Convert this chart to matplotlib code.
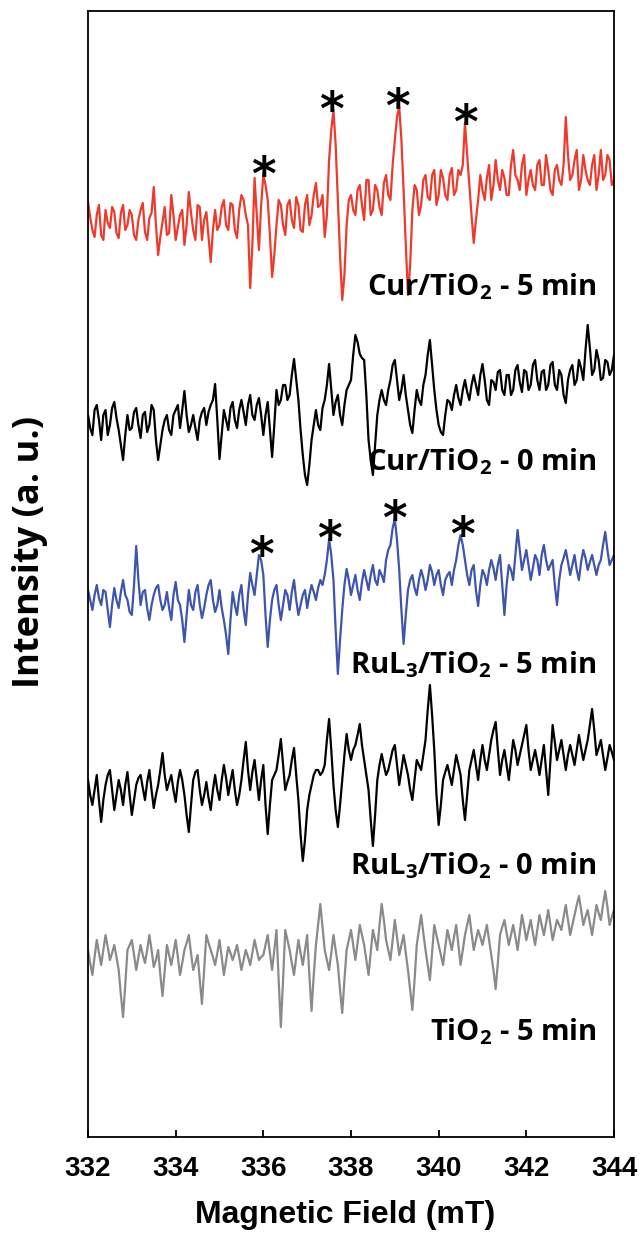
import numpy as np
import matplotlib
matplotlib.use("Agg")
import matplotlib.pyplot as plt

# EPR spectra, 332-344 mT (a.u.)
# *_a : points at 332.0, 332.1, ... 344.0 ; *_b : points at 332.05, 332.15, ... 343.95
field = np.round(np.arange(332.0, 344.001, 0.05), 3)

cur_5min_a = [23, -5, 10, -10, 15, -3, 13, -13, 20, 0, 10, -15, 15, -7, 7, 38, -30, 3, -10, 30,
              -15, 10, -20, 33, -5, 20, -15, 13, -37, 15, 0, 25, -5, 20, -13, 30, 10, -63, 47, -25,
              50, 25, -52, 0, 20, -10, 25, -3, 20, -7, 30, 10, 42, 20, -12, 65, 115, 25, -75, 0,
              30, 10, 40, 5, 45, 15, 35, 10, 50, 25, 85, 118, 35, -70, 15, 35, 20, 50, 25, 55,
              30, 47, 25, 57, 35, 50, 102, 40, -18, 25, 35, 47, 25, 65, 35, 47, 30, 75, 45, 60,
              30, 55, 35, 65, 40, 55, 30, 60, 40, 108, 45, 65, 35, 70, 45, 60, 35, 75, 50, 65, 45]
cur_5min_b = [8, -12, 20, -15, 2, 18, -8, 12, -5, 15, -10, 5, 22, -15, 12, 0, -12, 18, -8, 10,
              -2, 15, 0, 12, -15, 18, 5, -12, -5, -5, 18, 0, 22, -5, 15, 25, 0, -20, 10, 20,
              40, -10, -30, 25, 0, 20, 5, 28, -5, 20, 0, 30, 18, 30, 10, 95, 80, -30, -50, 25,
              15, 35, 20, 45, 10, 40, 18, 42, 30, 60, 108, 85, -20, -40, 40, 10, 45, 28, 50, 20,
              55, 30, 50, 30, 55, 60, 70, 10, 5, 50, 25, 60, 40, 45, 55, 30, 60, 50, 35, 70,
              45, 40, 60, 40, 70, 35, 55, 45, 60, 70, 50, 75, 45, 55, 40, 70, 50, 45, 70, 40]

cur_0min_a = [5, -15, 15, -20, 10, -5, 18, -10, -40, 5, -8, 12, -18, 8, -5, 10, -40, -10, 5, -15,
              10, -8, 29, -12, 5, -20, 8, -5, 15, 36, -39, 10, -10, 18, -8, 20, -5, 25, 0, 22,
              -15, 18, -37, 30, 20, 35, 25, 61, 20, -35, -65, -20, 10, -10, 20, 56, 5, 25, -5, 30,
              40, 85, 66, 60, -20, -55, 5, 30, 15, 40, 60, 20, 45, 10, -13, 30, 15, 45, 80, 30,
              -5, -15, 20, 10, 35, 15, 40, 20, 45, 25, 56, 20, 40, 30, 50, 25, 45, 30, 55, 28,
              48, 35, 60, 30, 50, 35, 58, 30, 45, 17, 50, 35, 60, 40, 95, 45, 70, 40, 60, 45, 65]
cur_0min_b = [-8, 10, 0, 5, -15, 12, 2, -25, -15, -10, 8, -5, 5, -12, 15, -20, -25, 0, -10, 5,
              15, 10, 5, -5, -8, 0, 12, 8, 20, 0, -15, 0, 12, 0, 10, 8, 15, 5, 15, 5,
              5, -10, -5, 15, 35, 20, 45, 40, -10, -55, -45, -5, -5, 12, 35, 30, 18, 5, 15, 35,
              65, 78, 62, 25, -40, -25, 20, 20, 30, 55, 40, 30, 25, -5, 10, 20, 35, 65, 55, 10,
              -12, 5, 18, 25, 22, 30, 28, 35, 35, 45, 40, 15, 38, 48, 30, 45, 25, 50, 38, 50,
              30, 55, 40, 48, 30, 55, 35, 50, 25, 40, 55, 40, 52, 70, 72, 50, 60, 42, 58, 50]

rul3_5min_a = [10, -10, 15, -5, 8, -27, 12, -8, 20, 0, -15, 54, -5, 10, -20, 5, 15, -10, 8, -20,
               18, -5, -42, 10, -10, 15, -18, 5, 20, -12, 10, -20, -54, 8, -15, 15, -25, 27, 5, 45,
               25, -47, 0, 15, -20, 10, -10, 20, -15, 5, -8, 15, 0, 20, 25, 61, 20, -74, -10, 31,
               5, 25, 0, 30, 10, 35, 15, 25, 40, 55, 81, 30, -44, 10, 25, 5, 30, 10, 35, 15,
               30, 5, 25, 15, 40, 65, 40, 15, 35, -6, 30, 15, 40, 20, 45, -15, 35, 20, 70, 30,
               50, 20, 45, 25, 55, 30, 40, -5, 35, 50, 25, 45, 20, 50, 30, 45, 25, 40, 68, 35, 45]
rul3_5min_b = [0, 5, 2, 10, -10, -5, 0, 8, 5, -12, 15, 20, 8, -8, -5, 12, 0, -5, -8, 5,
               0, -20, -15, -5, 8, -5, -8, 15, 0, -5, -8, -35, -20, -5, 5, -10, 5, 15, 25, 40,
               -15, -20, 10, -5, -5, 5, 8, 0, -5, 10, 5, 8, 12, 15, 40, 45, -30, -40, 15, 20,
               15, 10, 18, 20, 25, 20, 30, 18, 50, 72, 60, -10, -15, 20, 12, 20, 22, 20, 28, 25,
               15, 20, 28, 30, 55, 55, 25, 30, 10, 15, 25, 30, 32, 35, 15, 15, 30, 45, 50, 40,
               35, 32, 40, 45, 40, 35, 15, 20, 42, 38, 35, 30, 38, 42, 38, 35, 35, 55, 50, 40]

rul3_0min_a = [10, -15, 15, -32, 5, 20, -20, 10, -15, 18, -25, 5, 15, -10, 20, -18, 5, 37, 0, 15,
               -12, 20, -5, -42, 10, 20, -15, 8, -20, 15, -10, 25, -5, 20, -15, 10, 48, 0, 30, -10,
               25, -44, 10, 20, 51, 0, 15, 42, -10, -71, -20, 5, 20, 15, 25, 71, 5, -37, 10, 56,
               30, 45, 66, 30, 0, -56, 10, 36, 15, 30, 45, 5, 35, 15, -10, 30, 20, 50, 105, 40,
               -35, 10, 25, 5, 35, 15, -30, 20, 40, 10, 45, 20, 50, 68, 15, 40, 10, 50, 25, 45,
               65, 20, 40, 15, 45, -5, 65, 30, 50, 20, 45, 25, 55, 30, 50, 81, 35, 50, 20, 45, 30]
rul3_0min_b = [-5, 0, -10, -10, 15, 0, -5, 0, 5, -5, -10, 12, 2, 8, 0, -5, 20, 15, 8, 0,
               8, 10, -25, -15, 18, 0, -5, -8, 0, 0, 10, 12, 8, 0, -5, 30, 20, 18, 10, 10,
               -15, -15, 15, 35, 25, 8, 30, 15, -45, -50, -5, 15, 20, 18, 50, 40, -20, -15, 35, 40,
               40, 55, 45, 15, -30, -25, 25, 25, 20, 40, 25, 20, 25, 0, 10, 25, 35, 80, 75, -5,
               -15, 18, 15, 20, 25, -10, -5, 30, 25, 30, 30, 35, 60, 40, 30, 25, 30, 40, 35, 55,
               40, 30, 28, 30, 20, 30, 48, 40, 35, 35, 35, 40, 42, 40, 65, 60, 42, 35, 32, 38]

tio2_5min_a = [5, -20, 15, -10, 20, -5, 10, -15, -62, 5, 15, -15, 10, -8, 20, -12, 5, -41, 10, -10,
               15, -20, 5, 20, -15, 0, -49, 20, 5, -10, 15, -20, 8, -5, 10, -15, 5, -10, 15, -5,
               0, 20, -15, 25, -72, 25, 5, -20, 15, -10, 20, -56, 10, 51, 5, -15, 20, -10, -58, 5,
               25, -5, 30, 10, -20, 25, 5, 51, 15, -5, 35, 0, 20, -15, -55, 10, 40, 5, -25, 30,
               10, -10, 25, 5, 30, -10, 20, 40, 5, 25, 10, 30, 0, -34, 20, 35, 10, 30, 5, 40,
               15, 35, 10, 40, 20, 45, 15, 35, 25, 50, 20, 40, 59, 30, 45, 20, 50, 35, 64, 30, 45]
tio2_5min_b = [-8, -2, 2, 5, 8, 2, -2, -40, -30, 10, 0, -2, 0, 5, 5, -5, -20, -15, 0, 2,
               -2, -8, 12, 2, -8, -25, -15, 12, -2, 2, -2, -6, 2, 2, -2, -5, -2, 2, 5, -2,
               10, 2, 5, -25, -25, 15, -8, -2, 2, 5, -20, -20, 30, 28, -5, 2, 5, -35, -25, 15,
               10, 12, 20, -5, 2, 15, 30, 35, 5, 15, 18, 10, 2, -35, -25, 25, 22, -10, 2, 20,
               0, 8, 15, 18, 10, 5, 30, 22, 15, 18, 20, 15, -15, -8, 28, 22, 20, 18, 22, 28,
               25, 22, 25, 30, 32, 30, 25, 30, 38, 35, 30, 50, 45, 38, 32, 35, 42, 50, 48, 38]

spectra = [(cur_5min_a, cur_5min_b), (cur_0min_a, cur_0min_b), (rul3_5min_a, rul3_5min_b),
           (rul3_0min_a, rul3_0min_b), (tio2_5min_a, tio2_5min_b)]
labels = [r"Cur/TiO$_\mathbf{2}$ - 5 min", r"Cur/TiO$_\mathbf{2}$ - 0 min",
          r"RuL$_\mathbf{3}$/TiO$_\mathbf{2}$ - 5 min", r"RuL$_\mathbf{3}$/TiO$_\mathbf{2}$ - 0 min",
          r"TiO$_\mathbf{2}$ - 5 min"]
colors = ["#ee3a2c", "black", "#3d55ad", "black", "#8a8a8a"]
offsets = [912, 717, 537, 347, 182]          # vertical stacking of the traces
label_y = [842, 667, 464, 263, 97]           # baseline height of each label
star_fields = {0: [336.0, 337.55, 339.05, 340.6], 2: [335.95, 337.5, 339.0, 340.55]}

label_font = "Open Sans"
plt.rcParams["mathtext.fontset"] = "custom"
plt.rcParams["mathtext.bf"] = label_font + ":bold"
plt.rcParams["mathtext.rm"] = label_font + ":bold"

fig = plt.figure(figsize=(6.41, 12.36), dpi=100)
ax = fig.add_axes([88 / 641, 1 - 1137 / 1236, 526 / 641, 1126 / 1236])

for i, (a, b) in enumerate(spectra):
    y = np.empty(len(field))
    y[0::2] = a
    y[1::2] = b
    y = y + offsets[i]
    ax.plot(field, y, color=colors[i], lw=1.6)
    ax.text(343.6, label_y[i], labels[i], ha="right", va="baseline",
            fontsize=21, fontweight="bold", family=label_font)
    for fx in star_fields.get(i, []):
        near = np.abs(field - fx) < 0.15
        peak = y[near].max()
        ax.annotate("*", xy=(fx, peak), xytext=(0, -11), textcoords="offset points",
                    ha="center", va="baseline", fontsize=34, fontweight="bold")

ax.set_xlim(332, 344)
ax.set_ylim(0, 1126)
ax.set_xticks(np.arange(332, 345, 2))
ax.set_yticks([])
ax.tick_params(axis="x", direction="in", length=5, width=1.3, pad=14)
for lab in ax.get_xticklabels():
    lab.set_fontsize(20)
    lab.set_fontweight("bold")
    lab.set_family("Liberation Sans")
for sp in ax.spines.values():
    sp.set_linewidth(1.3)

fig.text(345 / 641, 1 - 1215 / 1236, "Magnetic Field (mT)", ha="center", va="center",
         fontsize=23, fontweight="bold", family="Liberation Sans")
fig.text(30 / 641, 1 - 552 / 1236, "Intensity (a. u.)", rotation=90, ha="center", va="center",
         fontsize=26, fontweight="bold", family=label_font)

fig.savefig("out.png", dpi=100)
